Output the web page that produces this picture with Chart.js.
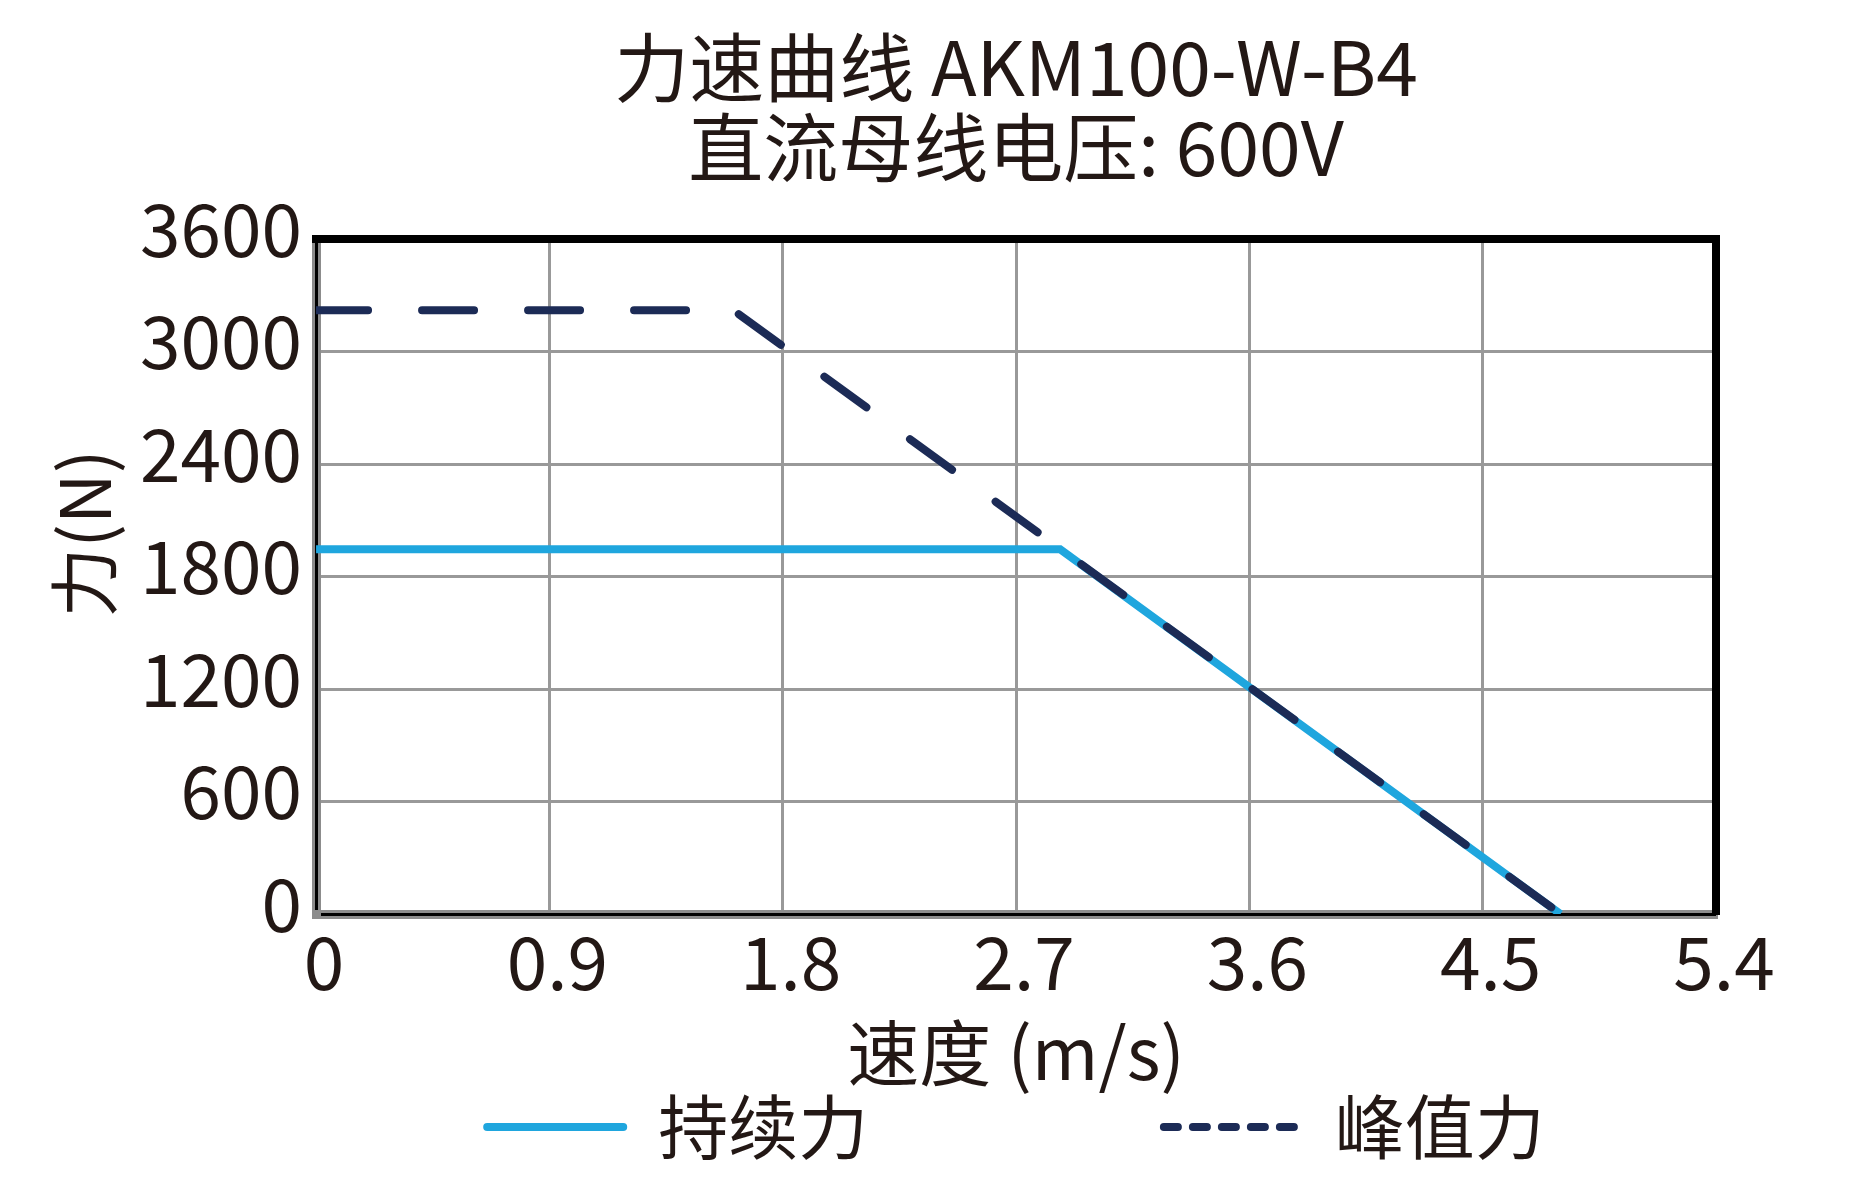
<!DOCTYPE html>
<html>
<head>
<meta charset="utf-8">
<script src="https://cdn.jsdelivr.net/npm/chart.js@4/dist/chart.umd.min.js"></script>
<style>
  html, body { margin: 0; padding: 0; background: #fff; }
  #forceChart { display: block; }
</style>
</head>
<body>
<canvas id="forceChart" width="1866" height="1194"></canvas>
<script>
// 力速曲线 AKM100-W-B4

const seriesNames = ["峰值力", "持续力"];
const speedPeak = [0, 1.61, 4.8];
const forcePeak = [3220, 3220, 0];
const speedContinuous = [0, 2.87, 4.8];
const forceContinuous = [1945, 1945, 0];
const xTicks = [0, 0.9, 1.8, 2.7, 3.6, 4.5, 5.4];
const yTicks = [0, 600, 1200, 1800, 2400, 3000, 3600];

const textColor = "#231815";
const fontFamily = "'Noto Sans CJK SC', 'Noto Sans', sans-serif";

const toPoints = (xs, ys) => xs.map((x, i) => ({ x: x, y: ys[i] }));

const forceChart = document.querySelector("#forceChart");
const myChart = new Chart(forceChart, {
  type: "line",
  data: {
    datasets: [
      {
        label: seriesNames[0],
        data: toPoints(speedPeak, forcePeak),
        borderColor: "#1c2b56",
        borderWidth: 8,
        borderDash: [52, 54],
        borderCapStyle: "round",
        pointRadius: 0,
        tension: 0,
      },
      {
        label: seriesNames[1],
        data: toPoints(speedContinuous, forceContinuous),
        borderColor: "#1fa6de",
        borderWidth: 8,
        pointRadius: 0,
        tension: 0,
      },
    ],
  },
  options: {
    responsive: false,
    animation: false,
    events: [],
    layout: {
      padding: { left: 42, right: 150, top: 0, bottom: 22 },
    },
    scales: {
      x: {
        type: "linear",
        position: "bottom",
        min: 0,
        max: 5.4,
        afterBuildTicks: (scale) => {
          scale.ticks = xTicks.map((v) => ({ value: v }));
        },
        ticks: {
          color: textColor,
          font: { family: fontFamily, size: 73 },
          padding: 4,
          labelOffset: 8,
          maxRotation: 0,
          autoSkip: false,
          callback: (v) => String(v),
        },
        grid: {
          color: (ctx) => (ctx.index === 0 ? "#000" : "#999"),
          lineWidth: 3,
          drawTicks: false,
        },
        border: { color: "#8c8c8c", width: 9, z: -2 },
        title: {
          display: true,
          text: "速度 (m/s)",
          color: textColor,
          font: { family: fontFamily, size: 72 },
          padding: { top: 0, bottom: -4 },
        },
      },
      y: {
        type: "linear",
        position: "left",
        min: 0,
        max: 3600,
        afterBuildTicks: (scale) => {
          scale.ticks = yTicks.map((v) => ({ value: v }));
        },
        ticks: {
          color: textColor,
          font: { family: fontFamily, size: 73 },
          padding: 14,
          labelOffset: -10,
          autoSkip: false,
          callback: (v) => String(v),
        },
        grid: {
          color: (ctx) => (ctx.index === 0 ? "#000" : "#999"),
          lineWidth: 3,
          drawTicks: false,
        },
        border: { color: "#8c8c8c", width: 9, z: -2 },
        title: {
          display: true,
          text: "\u3000 力(N)",
          color: textColor,
          font: { family: fontFamily, size: 70 },
          padding: { top: 0, bottom: 0 },
        },
      },
      x2: {
        type: "linear",
        position: "top",
        ticks: { display: false },
        grid: { display: false, drawTicks: false },
        border: { color: "#000", width: 8 },
      },
      y2: {
        type: "linear",
        position: "right",
        ticks: { display: false },
        grid: { display: false, drawTicks: false },
        border: { color: "#000", width: 8 },
      },
    },
    plugins: {
      title: {
        display: true,
        text: ["力速曲线 AKM100-W-B4", "直流母线电压: 600V"],
        color: textColor,
        font: { family: fontFamily, size: 75, weight: "normal", lineHeight: 1.06 },
        fullSize: false,
        padding: { top: 28, bottom: 52 },
      },
      legend: {
        display: true,
        position: "bottom",
        fullSize: false,
        reverse: true,
        labels: {
          usePointStyle: true,
          pointStyle: "line",
          pointStyleWidth: 136,
          padding: 0,
          color: textColor,
          font: { family: fontFamily, size: 70 },
          generateLabels: (chart) => {
            const items = Chart.defaults.plugins.legend.labels.generateLabels(chart);
            items.forEach((item) => {
              const ds = chart.data.datasets[item.datasetIndex];
              item.strokeStyle = ds.borderColor;
              item.lineWidth = 8;
              item.lineCap = "round";
              item.pointStyle = "line";
              if (item.datasetIndex === 0) {
                item.lineDash = [14, 15];
              } else {
                item.lineDash = [];
                item.text = item.text + "\u3000\u3000\u3000\u3000 ";
              }
            });
            return items;
          },
        },
      },
      tooltip: { enabled: false },
    },
  },
});

// borders sit under the edge grid lines; the second pass has their positions
myChart.draw();
</script>
</body>
</html>
